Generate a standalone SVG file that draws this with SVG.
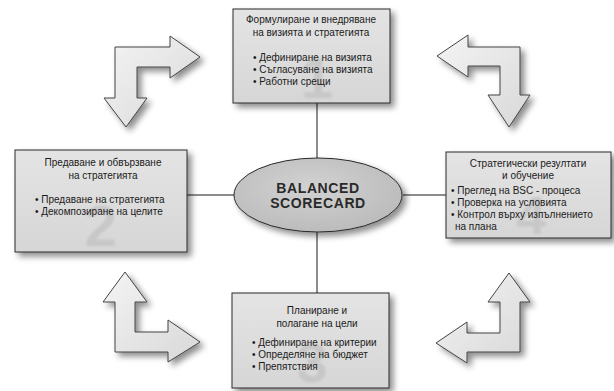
<svg xmlns="http://www.w3.org/2000/svg" width="614" height="391" viewBox="0 0 614 391">
  <defs>
    <filter id="shadow" x="-20%" y="-20%" width="150%" height="150%">
      <feGaussianBlur in="SourceAlpha" stdDeviation="3"/>
      <feOffset dx="4" dy="4" result="b"/>
      <feComponentTransfer><feFuncA type="linear" slope="0.45"/></feComponentTransfer>
      <feMerge><feMergeNode/><feMergeNode in="SourceGraphic"/></feMerge>
    </filter>
    <filter id="soft" x="-20%" y="-20%" width="140%" height="140%">
      <feGaussianBlur stdDeviation="0.8"/>
    </filter>
    <linearGradient id="boxFill" x1="0" y1="0" x2="0" y2="1">
      <stop offset="0" stop-color="#e4e4e4"/>
      <stop offset="1" stop-color="#d6d6d6"/>
    </linearGradient>
    <linearGradient id="arrowFill" x1="0" y1="0" x2="1" y2="1">
      <stop offset="0" stop-color="#f4f4f4"/>
      <stop offset="1" stop-color="#d8d8d8"/>
    </linearGradient>
    <radialGradient id="ovalFill" cx="0.45" cy="0.4" r="0.7">
      <stop offset="0" stop-color="#d2d2d2"/>
      <stop offset="1" stop-color="#b8b8b8"/>
    </radialGradient>
    <style>
      .box { fill: url(#boxFill); stroke: #2a2a2a; stroke-width: 1; filter: url(#shadow); }
      .arrow { fill: url(#arrowFill); stroke: #444; stroke-width: 1; filter: url(#shadow); }
      .num { font-family: "Liberation Sans", Arial, sans-serif; font-weight: bold; fill: #c2c2c2; opacity: 0.75; text-anchor: middle; filter: url(#soft); }
      .t { font-family: "Liberation Sans", Arial, sans-serif; font-size: 10px; fill: #1a1a1a; }
      .c { text-anchor: middle; }
      .conn { stroke: #1a1a1a; stroke-width: 1; fill: none; }
      .core { font-family: "Liberation Sans", Arial, sans-serif; font-size: 14px; font-weight: bold; fill: #2a2a2a; text-anchor: middle; letter-spacing: 0.6px; }
    </style>
  </defs>

  <rect width="614" height="391" fill="#ffffff"/>

  <!-- cycle arrows -->
  <g id="arrow-top-left">
    <path class="arrow" d="M115,47 L170,47 L170,36 L200,57 L170,78 L170,67 L137,67 L137,98 L147,98 L126,127 L104,98 L115,98 Z"/>
  </g>
  <g id="arrow-top-right">
    <path class="arrow" d="M520,47 L468,47 L468,35 L437,56 L468,77 L468,66 L500,66 L500,95 L488,95 L509,127 L530,95 L520,95 Z"/>
  </g>
  <g id="arrow-bottom-left">
    <path class="arrow" d="M115,352 L168,352 L168,362 L200,342 L168,320 L168,332 L135,332 L135,302 L147,302 L125,272 L103,302 L115,302 Z"/>
  </g>
  <g id="arrow-bottom-right">
    <path class="arrow" d="M520,352 L467,352 L467,363 L436,343 L467,322 L467,333 L500,333 L500,302 L488,302 L509,273 L530,302 L520,302 Z"/>
  </g>

  <!-- connectors -->
  <g id="connectors">
    <line class="conn" x1="317" y1="103" x2="317" y2="158"/>
    <line class="conn" x1="317" y1="232" x2="317" y2="293"/>
    <line class="conn" x1="187" y1="195" x2="234" y2="195"/>
    <line class="conn" x1="403" y1="195" x2="446" y2="195"/>
  </g>

  <!-- centre -->
  <g id="core">
    <ellipse cx="318" cy="195" rx="84" ry="37" fill="url(#ovalFill)" stroke="#2a2a2a" stroke-width="1" filter="url(#shadow)"/>
    <text class="core" x="318" y="193">BALANCED</text>
    <text class="core" x="318" y="208">SCORECARD</text>
  </g>

  <!-- 1 -->
  <g id="node-1">
    <rect class="box" x="233" y="9" width="157" height="94"/>
    <text class="num" x="317" y="98" font-size="58">1</text>
    <text class="t c" x="311" y="23">Формулиране и внедряване</text>
    <text class="t c" x="311" y="36">на визията и стратегията</text>
    <text class="t" x="253" y="61">• Дефиниране на визията</text>
    <text class="t" x="253" y="73">• Съгласуване на визията</text>
    <text class="t" x="253" y="85">• Работни срещи</text>
  </g>

  <!-- 2 -->
  <g id="node-2">
    <rect class="box" x="15" y="150" width="172" height="102"/>
    <text class="num" x="101" y="246" font-size="58">2</text>
    <text class="t c" x="103" y="166">Предаване и обвързване</text>
    <text class="t c" x="103" y="179">на стратегията</text>
    <text class="t" x="35" y="203">• Предаване на стратегията</text>
    <text class="t" x="35" y="215">• Декомпозиране на целите</text>
  </g>

  <!-- 4 -->
  <g id="node-4">
    <rect class="box" x="446" y="152" width="165" height="86"/>
    <text class="num" x="531" y="234" font-size="54">4</text>
    <text class="t c" x="528" y="167">Стратегически резултати</text>
    <text class="t c" x="528" y="179">и обучение</text>
    <text class="t" x="451" y="194">• Преглед на BSC - процеса</text>
    <text class="t" x="451" y="206">• Проверка на условията</text>
    <text class="t" x="451" y="218">• Контрол върху изпълнението</text>
    <text class="t" x="455" y="230">на плана</text>
  </g>

  <!-- 3 -->
  <g id="node-3">
    <rect class="box" x="232" y="293" width="157" height="95"/>
    <text class="num" x="312" y="382" font-size="56">3</text>
    <text class="t c" x="317" y="314">Планиране и</text>
    <text class="t c" x="317" y="327">полагане на цели</text>
    <text class="t" x="252" y="346">• Дефиниране на критерии</text>
    <text class="t" x="252" y="358">• Определяне на бюджет</text>
    <text class="t" x="252" y="370">• Препятствия</text>
  </g>
</svg>
